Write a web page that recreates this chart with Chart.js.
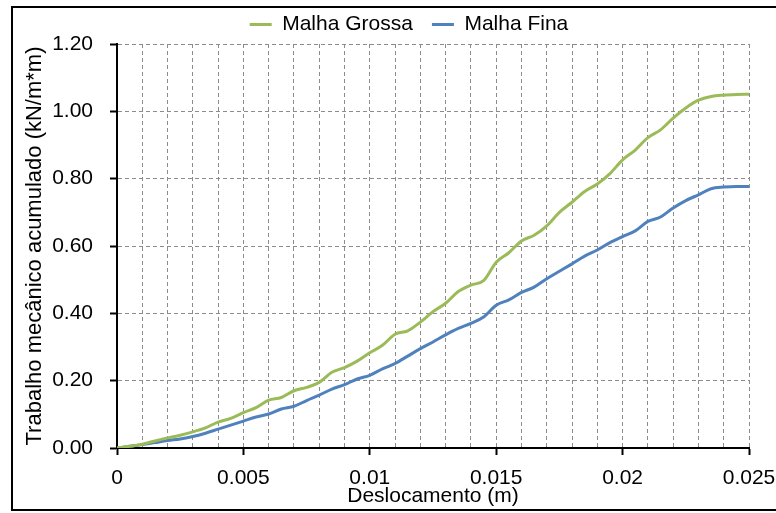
<!DOCTYPE html>
<html>
<head>
<meta charset="utf-8">
<script src="https://cdn.jsdelivr.net/npm/chart.js@4"></script>
<style>
  html, body { margin: 0; padding: 0; background: #fff; overflow: hidden; }
  #frame {
    position: absolute; left: 11px; top: 6px;
    width: 792px; height: 501px;
    border: 2px solid #000;
  }
  #wrap { position: relative; width: 792px; height: 501px; }
</style>
</head>
<body>
<div id="frame"><div id="wrap"><canvas id="chart1"></canvas></div></div>
<script>
// Deslocamento (m), every 0.0005
const deslocamento = [
  0, 0.0005, 0.001, 0.0015, 0.002, 0.0025, 0.003, 0.0035, 0.004, 0.0045,
  0.005, 0.0055, 0.006, 0.0065, 0.007, 0.0075, 0.008, 0.0085, 0.009, 0.0095,
  0.01, 0.0105, 0.011, 0.0115, 0.012, 0.0125, 0.013, 0.0135, 0.014, 0.0145,
  0.015, 0.0155, 0.016, 0.0165, 0.017, 0.0175, 0.018, 0.0185, 0.019, 0.0195,
  0.02, 0.0205, 0.021, 0.0215, 0.022, 0.0225, 0.023, 0.0235, 0.024, 0.0245, 0.025
];

// Trabalho mecânico acumulado (kN/m*m)
const malhaGrossa = [
  0, 0.005, 0.011, 0.021, 0.030, 0.038, 0.048, 0.060, 0.077, 0.088,
  0.105, 0.120, 0.142, 0.150, 0.170, 0.180, 0.195, 0.225, 0.239, 0.258,
  0.283, 0.305, 0.338, 0.348, 0.374, 0.405, 0.430, 0.465, 0.484, 0.497,
  0.552, 0.580, 0.615, 0.632, 0.660, 0.700, 0.730, 0.762, 0.784, 0.815,
  0.856, 0.885, 0.922, 0.945, 0.980, 1.010, 1.033, 1.044, 1.048, 1.050, 1.051
];

const malhaFina = [
  0, 0.005, 0.010, 0.016, 0.022, 0.027, 0.034, 0.044, 0.056, 0.068,
  0.080, 0.092, 0.101, 0.116, 0.124, 0.141, 0.157, 0.175, 0.188, 0.205,
  0.216, 0.235, 0.251, 0.273, 0.295, 0.315, 0.336, 0.355, 0.370, 0.389,
  0.424, 0.440, 0.462, 0.478, 0.503, 0.525, 0.547, 0.570, 0.588, 0.610,
  0.628, 0.645, 0.673, 0.686, 0.713, 0.735, 0.752, 0.770, 0.775, 0.777, 0.777
];

const labelsX = ['0', '0.005', '0.01', '0.015', '0.02', '0.025'];

const green = '#9BBB59';
const blue = '#4F81BD';
const fontFamily = '"Liberation Sans", Arial, sans-serif';

function toPoints(values) {
  return values.map((v, i) => ({ x: deslocamento[i], y: v }));
}

// major x ticks are the labelled ones (every 0.005)
function isMajor(value) {
  return Math.round(value * 1000) % 5 === 0;
}

// nudge the legend a bit right and up, like in the original sheet
const legendShift = {
  id: 'legendShift',
  afterLayout(chart) {
    const lg = chart.legend;
    if (!lg) return;
    lg.left += 28;
    lg.right += 28;
    lg.top -= 13; // bottom kept so the text is not clipped
  }
};

const chart1 = new Chart(document.getElementById('chart1'), {
  type: 'line',
  data: {
    datasets: [
      {
        label: 'Malha Grossa',
        data: toPoints(malhaGrossa),
        borderColor: green,
        backgroundColor: green,
        borderWidth: 3,
        pointRadius: 0,
        cubicInterpolationMode: 'monotone',
        fill: false
      },
      {
        label: 'Malha Fina',
        data: toPoints(malhaFina),
        borderColor: blue,
        backgroundColor: blue,
        borderWidth: 3,
        pointRadius: 0,
        cubicInterpolationMode: 'monotone',
        fill: false
      }
    ]
  },
  plugins: [legendShift],
  options: {
    responsive: true,
    maintainAspectRatio: false,
    animation: false,
    layout: { padding: { right: 56, top: 0 } },
    plugins: {
      tooltip: { enabled: false },
      legend: {
        position: 'top',
        maxHeight: 36,
        labels: {
          usePointStyle: true,
          pointStyle: 'line',
          pointStyleWidth: 22,
          padding: 19,
          color: '#000',
          font: { family: fontFamily, size: 21 }
        }
      }
    },
    scales: {
      x: {
        type: 'linear',
        min: 0,
        max: 0.025,
        afterFit: function (scale) { scale.height = 61; },
        ticks: {
          stepSize: 0.001,
          autoSkip: false,
          maxRotation: 0,
          minRotation: 0,
          padding: 11,
          color: '#000',
          font: { family: fontFamily, size: 21 },
          callback: function (value) {
            if (!isMajor(value)) return '';
            return labelsX[Math.round(value * 1000) / 5];
          }
        },
        grid: {
          color: '#8c8c8c',
          lineWidth: 1,
          tickLength: 7,
          tickWidth: 2,
          tickColor: function (ctx) {
            return ctx.tick && isMajor(ctx.tick.value) ? '#000' : 'rgba(0,0,0,0)';
          }
        },
        border: { display: true, color: '#000', width: 2, dash: [4, 3] },
        title: {
          display: true,
          text: 'Deslocamento (m)',
          color: '#000',
          padding: { top: 0, bottom: 0 },
          font: { family: fontFamily, size: 21 }
        }
      },
      y: {
        type: 'linear',
        min: 0,
        max: 1.2,
        afterFit: function (scale) { scale.width = 104; },
        ticks: {
          stepSize: 0.2,
          padding: 17,
          color: '#000',
          font: { family: fontFamily, size: 21 },
          callback: function (value) { return value.toFixed(2); }
        },
        grid: {
          color: '#8c8c8c',
          lineWidth: 1,
          tickLength: 7,
          tickWidth: 2,
          tickColor: '#000'
        },
        border: { display: true, color: '#000', width: 2, dash: [4, 3] },
        title: {
          display: true,
          text: 'Trabalho mecânico acumulado (kN/m*m)',
          color: '#000',
          padding: { top: 9, bottom: 0 },
          font: { family: fontFamily, size: 22 }
        }
      }
    }
  }
});
</script>
</body>
</html>
